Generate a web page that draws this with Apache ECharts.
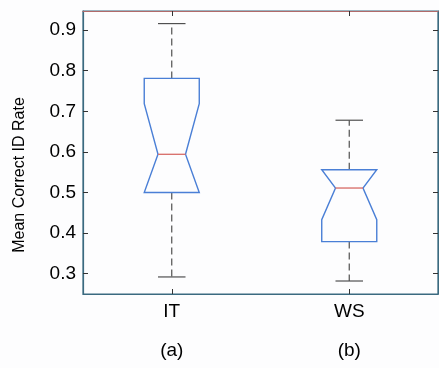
<!DOCTYPE html>
<html>
<head>
<meta charset="utf-8">
<script src="https://cdn.jsdelivr.net/npm/echarts@6/dist/echarts.min.js"></script>
<style>html,body{margin:0;padding:0;background:#fdfdfe;}#c{width:439px;height:368px;}</style>
</head>
<body>
<div id="c"></div>
<script>
var categories = ['IT', 'WS'];
var subLabels = ['(a)', '(b)'];
var lowerWhisker = [0.292, 0.282];
var q1 = [0.500, 0.379];
var notchLow = [0.500, 0.433];
var median = [0.594, 0.511];
var notchHigh = [0.719, 0.556];
var q3 = [0.781, 0.556];
var upperWhisker = [0.916, 0.678];
var yTicks = [0.3, 0.4, 0.5, 0.6, 0.7, 0.8, 0.9];

var FONT = 'Liberation Sans, Arial, Helvetica, sans-serif';
var frameColor = '#3b6a80';
var boxColor = '#4a7fd6';
var medColor = '#d9736f';
var whiskColor = '#505050';

var data = categories.map(function (c, i) {
  return [i, lowerWhisker[i], q1[i], notchLow[i], median[i], notchHigh[i], q3[i], upperWhisker[i]];
});

function renderItem(params, api) {
  var i = api.value(0);
  var band = api.size([1, 0])[0];
  var hw = band * 0.155;
  var nw = hw * 0.5;
  var cw = hw * 0.5;
  var cx = api.coord([i, 0])[0];
  function y(v) { return api.coord([i, v])[1]; }
  var yMin = y(api.value(1)), yQ1 = y(api.value(2)), yNL = y(api.value(3)),
      yMed = y(api.value(4)), yNH = y(api.value(5)), yQ3 = y(api.value(6)), yMax = y(api.value(7));
  var pts = [
    [cx - hw, yQ3], [cx + hw, yQ3], [cx + hw, yNH], [cx + nw, yMed], [cx + hw, yNL],
    [cx + hw, yQ1], [cx - hw, yQ1], [cx - hw, yNL], [cx - nw, yMed], [cx - hw, yNH]
  ];
  var dash = { stroke: whiskColor, lineWidth: 1.2, lineDash: [7, 4] };
  var solid = { stroke: whiskColor, lineWidth: 1.2 };
  return {
    type: 'group',
    children: [
      { type: 'line', shape: { x1: cx, y1: yQ3, x2: cx, y2: yMax }, style: dash },
      { type: 'line', shape: { x1: cx, y1: yQ1, x2: cx, y2: yMin }, style: dash },
      { type: 'line', shape: { x1: cx - cw, y1: yMax, x2: cx + cw, y2: yMax }, style: solid },
      { type: 'line', shape: { x1: cx - cw, y1: yMin, x2: cx + cw, y2: yMin }, style: solid },
      { type: 'polygon', shape: { points: pts }, style: { fill: 'none', stroke: boxColor, lineWidth: 1.4 } },
      { type: 'line', shape: { x1: cx - nw, y1: yMed, x2: cx + nw, y2: yMed }, style: { stroke: medColor, lineWidth: 1.4 } }
    ]
  };
}

var chart = echarts.init(document.getElementById('c'));
var yBase = {
  type: 'value', min: 0.25, max: 0.947,
  splitLine: { show: false },
  axisLine: { show: true, lineStyle: { color: frameColor, width: 1.2 } },
  axisTick: { show: true, inside: true, length: 5, customValues: yTicks, lineStyle: { color: '#333' } }
};
chart.setOption({
  backgroundColor: '#fdfdfe',
  animation: false,
  grid: { left: 83, right: 1, top: 11, bottom: 74, show: true, borderColor: frameColor, borderWidth: 1.2 },
  xAxis: [
    {
      type: 'category', data: categories, boundaryGap: true, position: 'bottom',
      axisLine: { show: true, onZero: false, lineStyle: { color: frameColor, width: 1.2 } },
      axisTick: { show: true, inside: true, length: 5, alignWithLabel: true, lineStyle: { color: '#333' } },
      axisLabel: { color: '#000', fontSize: 19, fontFamily: FONT, margin: 8 },
      splitLine: { show: false }
    },
    {
      type: 'category', data: categories, boundaryGap: true, position: 'top',
      axisLine: { show: true, lineStyle: { color: '#b06a6a', width: 1.2 } },
      axisTick: { show: true, inside: true, length: 5, alignWithLabel: true, lineStyle: { color: '#333' } },
      axisLabel: { show: false }
    }
  ],
  yAxis: [
    Object.assign({}, yBase, {
      position: 'left',
      axisLabel: { color: '#000', fontSize: 19, fontFamily: FONT, margin: 7, customValues: yTicks,
        formatter: function (v) { return v.toFixed(1); } }
    }),
    Object.assign({}, yBase, { position: 'right', axisLabel: { show: false } })
  ],
  series: [{
    type: 'custom', renderItem: renderItem, data: data,
    encode: { x: 0, y: [1, 7] }, clip: false
  }]
});

var gfx = subLabels.map(function (t, i) {
  var p = chart.convertToPixel({ xAxisIndex: 0, yAxisIndex: 0 }, [i, 0.25]);
  return { type: 'text', x: p[0], y: 351, style: { text: t, fill: '#000', font: '19px ' + FONT, textAlign: 'center', textVerticalAlign: 'middle' } };
});
gfx.push({ type: 'text', x: 20, y: 175, rotation: Math.PI / 2,
  style: { text: 'Mean Correct ID Rate', fill: '#000', font: '16px ' + FONT, textAlign: 'center', textVerticalAlign: 'middle' } });
chart.setOption({ graphic: gfx });
</script>
</body>
</html>
